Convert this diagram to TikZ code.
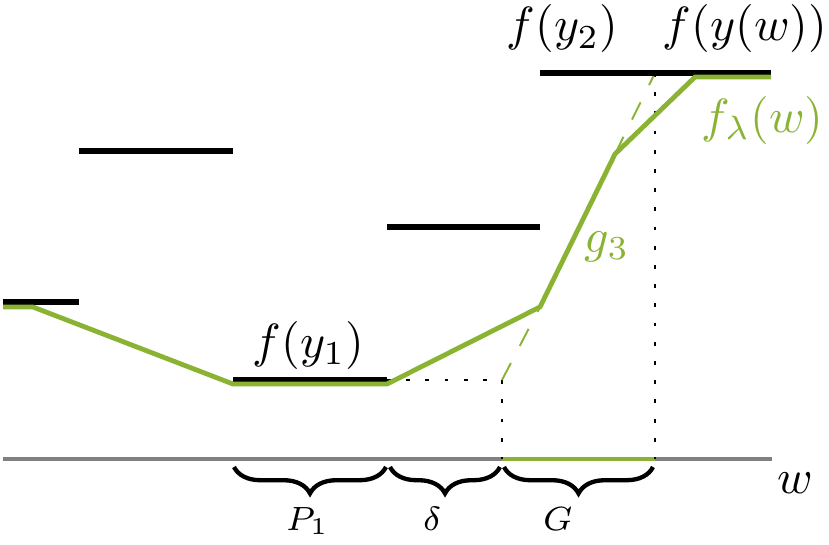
\documentclass[tikz,border=0pt]{standalone}
\usetikzlibrary{decorations.pathreplacing}
\definecolor{lgreen}{RGB}{138,179,51}
\begin{document}
\begin{tikzpicture}[x=0.2083pt,y=-0.2083pt,
 bar/.style={line width=1.25pt},
 gline/.style={lgreen,line width=1pt,line join=round},
 gdash/.style={lgreen,line width=0.4pt,dash pattern=on 4pt off 4pt},
 dots/.style={line width=0.55pt,dash pattern=on 0.8pt off 3.2pt},
 axisline/.style={gray,line width=0.65pt},
 brc/.style={decorate,decoration={brace,mirror,amplitude=5.5pt},line width=0.9pt},
 lbl/.style={inner sep=0pt,anchor=base west}]
\useasboundingbox (0,0) rectangle (829,544);
% axis
\coordinate (a0) at (3,459);
\coordinate (a1) at (772,459);
\coordinate (g0) at (502,459);
\coordinate (g1) at (655,459);
\draw[axisline] (a0) -- (a1);
\draw[lgreen,line width=0.65pt] (g0) -- (g1);
% dotted guides
\coordinate (d0) at (387,380);
\coordinate (d1) at (502,380);
\coordinate (d2) at (655,73);
\draw[dots] (d0) -- (d1) -- (g0);
\draw[dots] (d2) -- (g1);
% g3 dashed extension
\coordinate (p5) at (540,307);
\coordinate (p6) at (615,154);
\draw[gdash] (d1) -- (p5);
\draw[gdash] (p6) -- (d2);
% black bars
\draw[bar] (3,302) -- (79,302);
\draw[bar] (79,151) -- (233,151);
\draw[bar] (233,380) -- (387,380);
\draw[bar] (387,227) -- (540,227);
\draw[bar] (540,73) -- (771,73);
% green envelope
\coordinate (p1) at (3,307);
\coordinate (p2) at (33,307);
\coordinate (p3) at (233,384);
\coordinate (p4) at (387,384);
\coordinate (p7) at (695,77);
\coordinate (p8) at (771,77);
\draw[gline] (p1) -- (p2) -- (p3) -- (p4) -- (p5) -- (p6) -- (p7) -- (p8);
% braces
\coordinate (b0) at (234,467);
\coordinate (b1) at (386,467);
\coordinate (b2) at (390,467);
\coordinate (b3) at (500,467);
\coordinate (b4) at (504,467);
\coordinate (b5) at (653,467);
\draw[brc] (b0) -- (b1);
\draw[brc] (b2) -- (b3);
\draw[brc] (b4) -- (b5);
% labels
\node[lbl] (lp) at (285,530) {\scriptsize$P_1$};
\node[lbl] (ld) at (422,530) {\scriptsize$\delta$};
\node[lbl] (lg) at (542,530) {\scriptsize$G$};
\node[lbl] (lw) at (777,493) {$w$};
\node[lbl] (ly1) at (252,357) {$f(y_1)$};
\node[lbl] (ly2) at (506,41) {$f(y_2)$};
\node[lbl] (lyw) at (662,41) {$f(y(w))$};
\node[lbl,text=lgreen] (lfl) at (701,132) {$f_\lambda(w)$};
\node[lbl,text=lgreen] (lg3) at (584,252) {$g_3$};
\end{tikzpicture}
\end{document}
